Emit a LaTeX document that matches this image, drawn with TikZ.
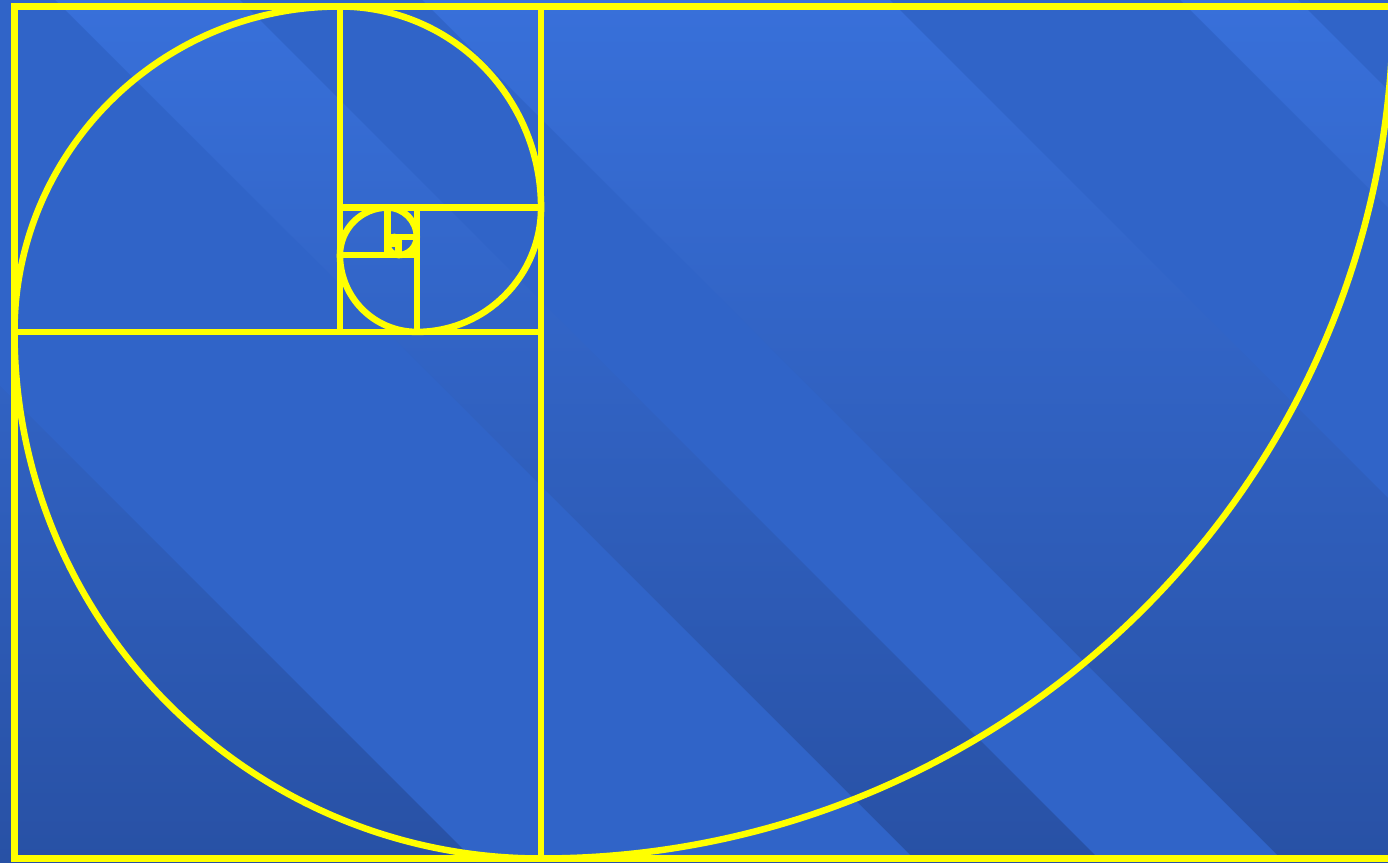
\documentclass[tikz,border=0pt]{standalone}
\definecolor{evtop}{HTML}{3870DA}
\definecolor{evbot}{HTML}{2851A5}
\definecolor{oddband}{HTML}{3064C8}
\definecolor{gold}{HTML}{FFFF00}
\tikzset{gl/.style={draw=gold, line width=6.5pt}}
\begin{document}
\begin{tikzpicture}[x=1pt,y=1pt]
\useasboundingbox (0,0) rectangle (1388,862);
% background
\begin{scope}
\clip (0,0) rectangle (1388,862);
\shade[top color=evtop,bottom color=evbot] (0,0) rectangle (1388,862);
\fill[oddband] (-386,862) -- (55,862) -- (917,0) -- (476,0) -- cycle;
\fill[oddband] (240,862) -- (422,862) -- (1284,0) -- (1102,0) -- cycle;
\fill[oddband] (890,862) -- (1180,862) -- (2042,0) -- (1752,0) -- cycle;
\fill[oddband] (1298,862) -- (3000,862) -- (3000,0) -- (2160,0) -- cycle;
\end{scope}
% squares
\begin{scope}
\clip (0,0) rectangle (1388,862);
\draw[gl] (14.5,3.5) rectangle (1393.065,855.5);
\draw[gl] (541.065,3.5) -- (541.065,855.5);
\draw[gl] (14.5,530.065) -- (541.065,530.065);
\draw[gl] (339.935,530.065) -- (339.935,855.5);
\draw[gl] (339.935,654.37) -- (541.065,654.37);
\draw[gl] (416.76,530.065) -- (416.76,654.37);
\draw[gl] (339.935,606.89) -- (416.76,606.89);
\draw[gl] (387.415,606.89) -- (387.415,654.37);
\draw[gl] (387.415,625.025) -- (416.76,625.025);
\draw[gl] (398.625,606.89) -- (398.625,625.025);
\draw[gl] (387.415,618.1) -- (398.625,618.1);
\draw[gl] (394.34,618.1) -- (394.34,625.025);
\draw[gl] (394.34,620.74) -- (398.625,620.74);
% spiral
\draw[gl] (1393.065,855.5)
  arc[start angle=0,end angle=-90,radius=852]
  arc[start angle=-90,end angle=-180,radius=526.565]
  arc[start angle=180,end angle=90,radius=325.435]
  arc[start angle=90,end angle=0,radius=201.13]
  arc[start angle=0,end angle=-90,radius=124.305]
  arc[start angle=-90,end angle=-180,radius=76.825]
  arc[start angle=180,end angle=90,radius=47.48]
  arc[start angle=90,end angle=0,radius=29.345]
  arc[start angle=0,end angle=-90,radius=18.135]
  arc[start angle=-90,end angle=-180,radius=11.21]
  arc[start angle=180,end angle=90,radius=6.925]
  arc[start angle=90,end angle=0,radius=4.285]
  arc[start angle=0,end angle=-90,radius=2.64];
\end{scope}
\end{tikzpicture}
\end{document}
